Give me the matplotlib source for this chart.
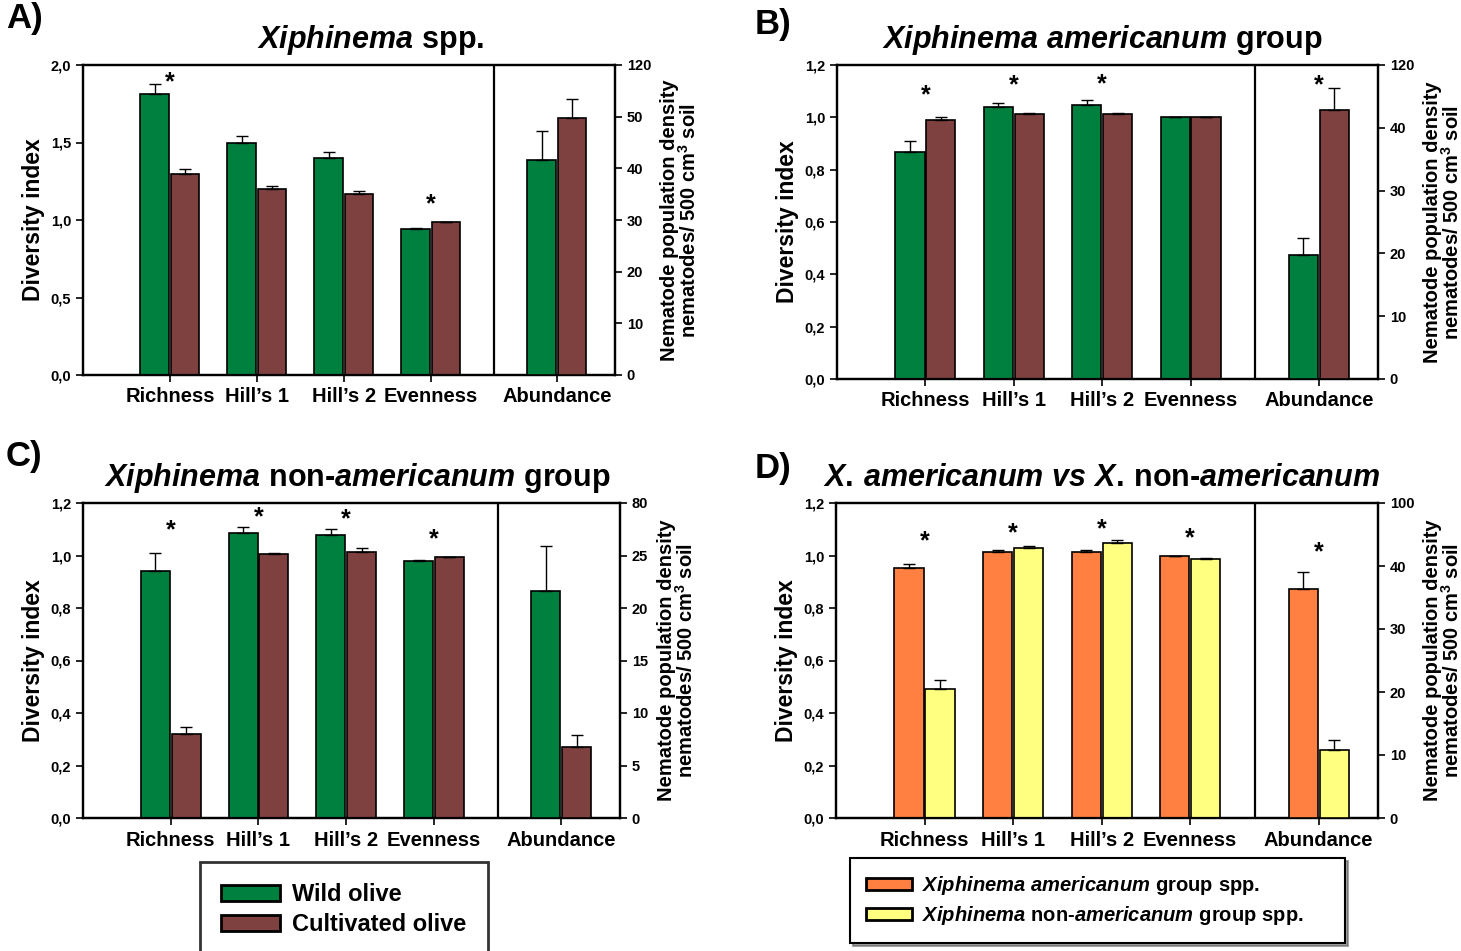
import matplotlib
matplotlib.use("Agg")
import matplotlib.pyplot as plt
import numpy as np
from matplotlib.patches import Patch

plt.rcParams['font.family'] = ['Liberation Sans', 'DejaVu Sans']
plt.rcParams['font.weight'] = 'bold'
plt.rcParams['axes.labelweight'] = 'bold'
plt.rcParams['axes.titleweight'] = 'bold'
plt.rcParams['mathtext.fontset'] = 'custom'
plt.rcParams['mathtext.rm'] = 'Liberation Sans:bold'
plt.rcParams['mathtext.it'] = 'Liberation Sans:italic:bold'
plt.rcParams['mathtext.bf'] = 'Liberation Sans:bold'

categories = ["Richness", "Hill\u2019s 1", "Hill\u2019s 2", "Evenness"]
abund_name = "Abundance"

# A) Xiphinema spp.  (wild vs cultivated)
a_s1 = [1.81, 1.495, 1.40, 0.945]
a_e1 = [0.07, 0.05, 0.04, 0.005]
a_s2 = [1.30, 1.20, 1.17, 0.985]
a_e2 = [0.03, 0.02, 0.02, 0.003]
a_ab = [41.7, 49.7]
a_abe = [5.5, 3.7]
a_stars = [(0, 1.89), (3, 1.10)]
a_star_ab = None

# B) X. americanum group
b_s1 = [0.866, 1.038, 1.046, 1.0]
b_e1 = [0.045, 0.018, 0.019, 0.002]
b_s2 = [0.988, 1.011, 1.011, 1.0]
b_e2 = [0.012, 0.004, 0.004, 0.002]
b_ab = [19.8, 42.9]
b_abe = [2.6, 3.4]
b_stars = [(0, 1.085), (1, 1.122), (2, 1.126)]
b_star_ab = 46.7

# C) X. non-americanum group
c_s1 = [0.94, 1.086, 1.078, 0.979]
c_e1 = [0.07, 0.022, 0.022, 0.004]
c_s2 = [0.32, 1.006, 1.013, 0.994]
c_e2 = [0.027, 0.003, 0.015, 0.002]
c_ab = [21.6, 6.75]
c_abe = [4.3, 1.2]
c_stars = [(0, 1.097), (1, 1.146), (2, 1.138), (3, 1.062)]
c_star_ab = None

# D) americanum vs non-americanum
d_s1 = [0.951, 1.015, 1.015, 0.998]
d_e1 = [0.015, 0.005, 0.005, 0.002]
d_s2 = [0.491, 1.029, 1.046, 0.988]
d_e2 = [0.033, 0.007, 0.014, 0.002]
d_ab = [36.3, 10.8]
d_abe = [2.7, 1.6]
d_stars = [(0, 1.055), (1, 1.086), (2, 1.10), (3, 1.067)]
d_star_ab = 42.1

div_ticks = [0, 0.2, 0.4, 0.6, 0.8, 1.0, 1.2]
div_labels = ["0,0", "0,2", "0,4", "0,6", "0,8", "1,0", "1,2"]
a_div_ticks = [0, 0.5, 1.0, 1.5, 2.0]
a_div_labels = ["0,0", "0,5", "1,0", "1,5", "2,0"]

green = "#00803f"
brown = "#7f4040"
orange = "#ff8040"
yellow = "#ffff80"

fig = plt.figure(figsize=(14.61, 9.51), dpi=100)
W, H = 1461, 951

XDIV = 4.73
XAB = 5.45
XMAX = 6.12
OFF = 0.175
BW = 0.33


def px_rect(l, r, t, b):
    return [l / W, 1 - b / H, (r - l) / W, (b - t) / H]


def panel(rect, letter, letter_xy, title, title_x, s1, e1, s2, e2, ab, abe, c1, c2,
          ylim, yt, ytl, rlim, rt, rtl, stars, star_ab):
    ax = fig.add_axes(rect)
    x = np.arange(1, 5)
    ek = dict(elinewidth=1, capthick=1, ecolor="black")
    ax.bar(x - OFF, s1, BW, color=c1, edgecolor="black", linewidth=1.2,
           yerr=[np.zeros(4), e1], capsize=4, error_kw=ek, zorder=3)
    ax.bar(x + OFF, s2, BW, color=c2, edgecolor="black", linewidth=1.2,
           yerr=[np.zeros(4), e2], capsize=4, error_kw=ek, zorder=3)
    ax.set_xlim(0, XMAX)
    ax.set_ylim(*ylim)
    ax.set_yticks(yt)
    ax.set_yticklabels(ytl)
    ax.set_xticks(list(x) + [XAB])
    ax.set_xticklabels(categories + [abund_name], fontsize=14.5)
    ax.axvline(XDIV, color="black", linewidth=1.6)
    ax.tick_params(axis="y", labelsize=10.5, length=5, width=1.2, direction="out")
    ax.tick_params(axis="x", length=5, width=1.2, direction="out", pad=4)
    ax.set_ylabel("Diversity index", fontsize=16.5, labelpad=4)
    for sp in ax.spines.values():
        sp.set_linewidth(1.6)
    for i, y in stars:
        ax.text(x[i], y, "*", ha="center", va="center", fontsize=18)

    ax2 = ax.twinx()
    ax2.bar([XAB - OFF, XAB + OFF], ab, BW, color=[c1, c2], edgecolor="black",
            linewidth=1.2, yerr=[[0, 0], abe], capsize=4, error_kw=ek, zorder=3)
    ax2.set_ylim(*rlim)
    ax2.set_yticks(rt)
    ax2.set_yticklabels(rtl)
    ax2.tick_params(axis="y", labelsize=10.5, length=5, width=1.2, direction="out")
    ax2.set_ylabel("Nematode population density\nnematodes/ 500 cm$^3$ soil",
                   fontsize=14.5, labelpad=6, linespacing=0.95)
    for sp in ax2.spines.values():
        sp.set_linewidth(1.6)
    if star_ab is not None:
        ax2.text(XAB, star_ab, "*", ha="center", va="center", fontsize=18)

    ax.set_title(title, fontsize=22, pad=12, x=title_x)
    fig.text(letter_xy[0] / W, 1 - letter_xy[1] / H, letter, fontsize=25,
             fontweight="bold", va="top", ha="left")
    return ax


panel(px_rect(83, 615, 65, 375), "A)", (6, 2),
      r"$\mathit{Xiphinema}\ \mathrm{spp.}$", 0.54,
      a_s1, a_e1, a_s2, a_e2, a_ab, a_abe, green, brown,
      (0, 2.0), a_div_ticks, a_div_labels,
      (0, 60), [0, 10, 20, 30, 40, 50, 60], ["0", "10", "20", "30", "40", "50", "120"],
      a_stars, a_star_ab)

panel(px_rect(837, 1378, 65, 379), "B)", (755, 8),
      r"$\mathit{Xiphinema\ americanum}\ \mathrm{group}$", 0.49,
      b_s1, b_e1, b_s2, b_e2, b_ab, b_abe, green, brown,
      (0, 1.2), div_ticks, div_labels,
      (0, 50), [0, 10, 20, 30, 40, 50], ["0", "10", "20", "30", "40", "120"],
      b_stars, b_star_ab)

panel(px_rect(83, 620, 503, 818), "C)", (6, 440),
      r"$\mathit{Xiphinema}\ \mathrm{non}\text{-}\mathit{americanum}\ \mathrm{group}$", 0.51,
      c_s1, c_e1, c_s2, c_e2, c_ab, c_abe, green, brown,
      (0, 1.2), div_ticks, div_labels,
      (0, 30), [0, 5, 10, 15, 20, 25, 30], ["0", "5", "10", "15", "20", "25", "80"],
      c_stars, c_star_ab)

panel(px_rect(836, 1378, 503, 818), "D)", (755, 452),
      r"$\mathit{X.\!\ americanum\ vs\ X.\!}\ \mathrm{non}\text{-}\mathit{americanum}$", 0.49,
      d_s1, d_e1, d_s2, d_e2, d_ab, d_abe, orange, yellow,
      (0, 1.2), div_ticks, div_labels,
      (0, 50), [0, 10, 20, 30, 40, 50], ["0", "10", "20", "30", "40", "100"],
      d_stars, d_star_ab)

h1 = [Patch(facecolor=green, edgecolor="black", linewidth=2),
      Patch(facecolor=brown, edgecolor="black", linewidth=2)]
leg1 = fig.legend(h1, ["Wild olive", "Cultivated olive"], loc="upper left",
                  bbox_to_anchor=(200 / W, 1 - 862 / H), fontsize=17,
                  fancybox=False, edgecolor="black", handlelength=2.5,
                  handleheight=0.7, borderpad=0.9, labelspacing=0.3,
                  handletextpad=0.5, borderaxespad=0)
leg1.get_frame().set_linewidth(2)

h2 = [Patch(facecolor=orange, edgecolor="black", linewidth=2),
      Patch(facecolor=yellow, edgecolor="black", linewidth=2)]
leg2 = fig.legend(h2, [r"$\mathit{Xiphinema\ americanum}\ \mathrm{group\ spp.}$",
                       r"$\mathit{Xiphinema}\ \mathrm{non}\text{-}\mathit{americanum}\ \mathrm{group\ spp.}$"],
                  loc="upper left", mode="expand",
                  bbox_to_anchor=(850 / W, 1 - 938 / H, 495 / W, 80 / H),
                  fontsize=14.5, fancybox=False, edgecolor="black", shadow=True,
                  handlelength=2.3, handleheight=0.6, borderpad=0.8,
                  labelspacing=0.35, handletextpad=0.5, borderaxespad=0)
leg2.get_frame().set_linewidth(1.5)

fig.savefig("out.png", dpi=100)
